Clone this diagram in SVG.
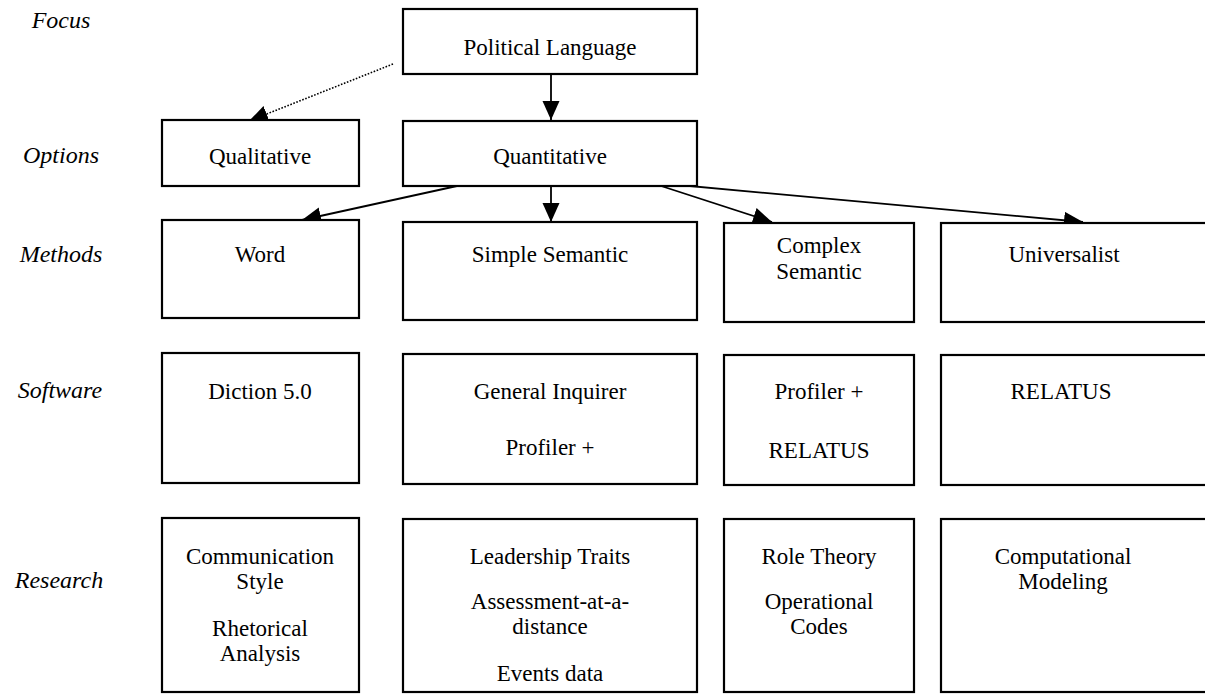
<svg xmlns="http://www.w3.org/2000/svg" width="1205" height="695" viewBox="0 0 1205 695">
  <style>
    .box { fill: #fff; stroke: #000; stroke-width: 2.2; }
    .t { font-family: 'Liberation Serif', 'DejaVu Serif', serif; font-size: 23px; fill: #000; text-anchor: middle; }
    .lbl { font-family: 'Liberation Serif', 'DejaVu Serif', serif; font-style: italic; font-size: 24px; fill: #000; text-anchor: middle; }
    .edge { fill: none; stroke: #000; stroke-width: 1.8; marker-end: url(#arrow); }
    .dotted { stroke-width: 1.6; stroke-dasharray: 1.6 1.6; }
  </style>
  <defs>
    <marker id="arrow" markerUnits="userSpaceOnUse" markerWidth="20" markerHeight="18" refX="19" refY="8.5" orient="auto">
      <path d="M0,0 L19,8.5 L0,17 z" fill="#000"/>
    </marker>
  </defs>

  <rect width="1205" height="695" fill="#fff"/>

  <!-- row labels -->
  <g id="row-labels" font-family="Liberation Serif, DejaVu Serif, serif">
    <text class="lbl" x="61" y="28">Focus</text>
    <text class="lbl" x="61" y="163">Options</text>
    <text class="lbl" x="61" y="262">Methods</text>
    <text class="lbl" x="60" y="398">Software</text>
    <text class="lbl" x="59" y="588">Research</text>
  </g>

  <!-- connectors -->
  <g id="connectors">
    <line class="edge" x1="551" y1="74" x2="551" y2="120"/>
    <line class="edge dotted" x1="393" y1="64" x2="249" y2="121"/>
    <line class="edge" x1="466" y1="184" x2="302" y2="220"/>
    <line class="edge" x1="551" y1="186" x2="551" y2="222"/>
    <line class="edge" x1="655" y1="184" x2="772" y2="222"/>
    <line class="edge" x1="668" y1="184" x2="1083" y2="222"/>
  </g>

  <g id="nodes" font-family="Liberation Serif, DejaVu Serif, serif">
    <!-- focus -->
    <g id="political-language">
      <rect class="box" x="403" y="9" width="294" height="65"/>
      <text class="t" x="550" y="55">Political Language</text>
    </g>

    <!-- options -->
    <g id="qualitative">
      <rect class="box" x="162" y="120" width="197" height="66"/>
      <text class="t" x="260" y="164">Qualitative</text>
    </g>
    <g id="quantitative">
      <rect class="box" x="403" y="121" width="294" height="65"/>
      <text class="t" x="550" y="164">Quantitative</text>
    </g>

    <!-- methods -->
    <g id="word">
      <rect class="box" x="162" y="220" width="197" height="98"/>
      <text class="t" x="260" y="262">Word</text>
    </g>
    <g id="simple-semantic">
      <rect class="box" x="403" y="222" width="294" height="98"/>
      <text class="t" x="550" y="262">Simple Semantic</text>
    </g>
    <g id="complex-semantic">
      <rect class="box" x="724" y="223" width="190" height="99"/>
      <text class="t" x="819" y="253">Complex</text>
      <text class="t" x="819" y="279">Semantic</text>
    </g>
    <g id="universalist">
      <rect class="box" x="941" y="223" width="290" height="99"/>
      <text class="t" x="1064" y="262">Universalist</text>
    </g>

    <!-- software -->
    <g id="sw-diction">
      <rect class="box" x="162" y="353" width="197" height="130"/>
      <text class="t" x="260" y="399">Diction 5.0</text>
    </g>
    <g id="sw-simple">
      <rect class="box" x="403" y="354" width="294" height="130"/>
      <text class="t" x="550" y="399">General Inquirer</text>
      <text class="t" x="550" y="455">Profiler +</text>
    </g>
    <g id="sw-complex">
      <rect class="box" x="724" y="355" width="190" height="130"/>
      <text class="t" x="819" y="399">Profiler +</text>
      <text class="t" x="819" y="458">RELATUS</text>
    </g>
    <g id="sw-universalist">
      <rect class="box" x="941" y="355" width="290" height="130"/>
      <text class="t" x="1061" y="399">RELATUS</text>
    </g>

    <!-- research -->
    <g id="rs-word">
      <rect class="box" x="162" y="518" width="197" height="174"/>
      <text class="t" x="260" y="564">Communication</text>
      <text class="t" x="260" y="589">Style</text>
      <text class="t" x="260" y="636">Rhetorical</text>
      <text class="t" x="260" y="661">Analysis</text>
    </g>
    <g id="rs-simple">
      <rect class="box" x="403" y="519" width="294" height="173"/>
      <text class="t" x="550" y="564">Leadership Traits</text>
      <text class="t" x="550" y="609">Assessment-at-a-</text>
      <text class="t" x="550" y="634">distance</text>
      <text class="t" x="550" y="681">Events data</text>
    </g>
    <g id="rs-complex">
      <rect class="box" x="724" y="519" width="190" height="173"/>
      <text class="t" x="819" y="564">Role Theory</text>
      <text class="t" x="819" y="609">Operational</text>
      <text class="t" x="819" y="634">Codes</text>
    </g>
    <g id="rs-universalist">
      <rect class="box" x="941" y="519" width="290" height="173"/>
      <text class="t" x="1063" y="564">Computational</text>
      <text class="t" x="1063" y="589">Modeling</text>
    </g>
  </g>
</svg>
